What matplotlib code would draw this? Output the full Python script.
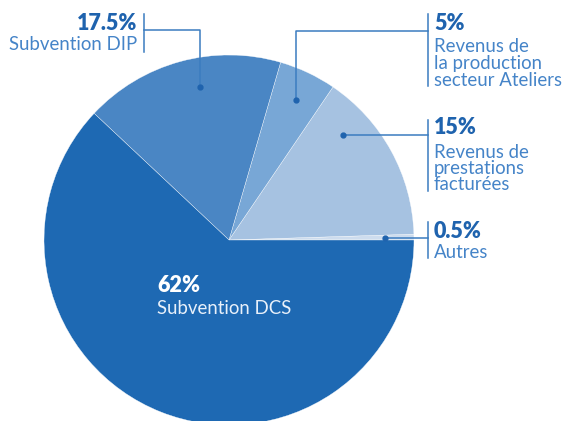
import matplotlib
matplotlib.use("Agg")
import matplotlib.pyplot as plt

# Data
labels = ["Autres", "Revenus de prestations facturées", "Revenus de la production secteur Ateliers",
          "Subvention DIP", "Subvention DCS"]
values = [0.5, 15, 5, 17.5, 62]
pct_labels = ["0.5%", "15%", "5%", "17.5%", "62%"]
desc_labels = [["Autres"], ["Revenus de", "prestations", "facturées"],
               ["Revenus de", "la production", "secteur Ateliers"],
               ["Subvention DIP"], ["Subvention DCS"]]
colors = ["#cddcee", "#a6c2e1", "#78a7d6", "#4a86c4", "#1e69b3"]

W, H = 564, 421
fig = plt.figure(figsize=(W / 100, H / 100), dpi=100)
ax = fig.add_axes([0, 0, 1, 1])

cx, cy, R = 229, 240, 185
ax.pie(values, colors=colors, startangle=0, counterclock=False, center=(cx, cy), radius=R,
       wedgeprops=dict(edgecolor="white", linewidth=0.25), frame=True)
ax.set_xlim(0, W)
ax.set_ylim(H, 0)
ax.set_aspect("equal")
ax.axis("off")

pct_color = "#1f63ae"
desc_color = "#4584c8"
line_color = "#3b7cc0"
fam = ["Lato", "DejaVu Sans"]
lw = 1.1
PS, DS = 15.5, 13.4

def dot(x, y):
    ax.plot([x], [y], "o", color=pct_color, markersize=3.5, zorder=5)

def label(x, ypct, ydesc, pct, desc, ha, step=17, pc=pct_color, dc=desc_color):
    ax.text(x, ypct, pct, ha=ha, va="center", fontsize=PS, fontweight="heavy", color=pc, family=fam)
    for i, line in enumerate(desc):
        ax.text(x, ydesc + i * step, line, ha=ha, va="center", fontsize=DS, fontweight="normal",
                color=dc, family=fam)

# 17.5% DIP
label(137, 23, 45, pct_labels[3], desc_labels[3], "right")
ax.plot([144, 144], [14, 52], color=line_color, lw=lw)
ax.plot([144, 200, 200], [30, 30, 87], color=line_color, lw=lw)
dot(200, 87)

# 5% Ateliers
label(434, 23, 47, pct_labels[2], desc_labels[2], "left", step=16.5)
ax.plot([428, 428], [14, 86], color=line_color, lw=lw)
ax.plot([428, 296, 296], [31, 31, 100], color=line_color, lw=lw)
dot(296, 100)

# 15% prestations
label(434, 128, 152, pct_labels[1], desc_labels[1], "left", step=16.5)
ax.plot([428, 428], [120, 191], color=line_color, lw=lw)
ax.plot([428, 343], [135, 135], color=line_color, lw=lw)
dot(343, 135)

# 0.5% Autres
label(434, 231, 253, pct_labels[0], desc_labels[0], "left")
ax.plot([428, 428], [222, 258], color=line_color, lw=lw)
ax.plot([428, 385], [238, 238], color=line_color, lw=lw)
dot(385, 238)

# 62% DCS
label(157, 285, 308, pct_labels[4], desc_labels[4], "left", pc="white", dc="#e8f0fa")

fig.savefig("out.png", dpi=100)
